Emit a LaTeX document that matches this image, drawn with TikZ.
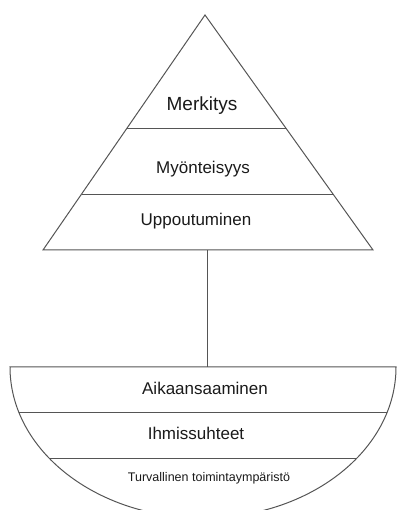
\documentclass[tikz,border=0pt]{standalone}
\usepackage{fontspec}
\setmainfont{Liberation Sans}
\usepackage{tikz}
\usetikzlibrary{calc}
\definecolor{edgegray}{HTML}{555555}
\definecolor{labelink}{HTML}{1A1A1A}
\tikzset{
  layerline/.style={edgegray, line width=1pt},
  layertext/.style={labelink, font=\fontsize{17}{17}\selectfont}
}

\begin{document}
\begin{tikzpicture}[x=1pt, y=1pt]
  \useasboundingbox (0,0) rectangle (398,510);

  % Pyramid - three layers on top
  \coordinate (apex) at (205,495);
  \coordinate (baseL) at (43,260);
  \coordinate (baseR) at (373,260);
  \draw[layerline, line join=miter] (apex) -- (baseL) -- (baseR) -- cycle;
  % Layer dividers
  \draw[layerline] ($(apex)!0.481!(baseL)$) -- ($(apex)!0.481!(baseR)$);
  \draw[layerline] ($(apex)!0.762!(baseL)$) -- ($(apex)!0.762!(baseR)$);

  \node[layertext, font=\fontsize{19}{19}\selectfont] (merkitys) at (202,404) {Merkitys};
  \node[layertext] (myonteisyys) at (203,341) {Myönteisyys};
  \node[layertext] (uppoutuminen) at (196,289) {Uppoutuminen};

  % Stem between pyramid and bowl
  \coordinate (stemtop) at (207,260);
  \coordinate (stembottom) at (207,143);
  \draw[layerline] (stemtop) -- (stembottom);

  % Bowl - foundation layers
  \begin{scope}
    \clip (10,143) arc[start angle=180, end angle=360, x radius=193, y radius=151] -- cycle;
    \draw[layerline] (0,97) -- (398,97);
    \draw[layerline] (0,51) -- (398,51);
  \end{scope}
  \draw[layerline] (10,143) arc[start angle=180, end angle=360, x radius=193, y radius=151] -- cycle;

  \node[layertext] (aikaansaaminen) at (205,122) {Aikaansaaminen};
  \node[layertext] (ihmissuhteet) at (196,77) {Ihmissuhteet};
  \node[layertext, font=\fontsize{12.5}{12.5}\selectfont] (turvallinen) at (209,32) {Turvallinen toimintaympäristö};
\end{tikzpicture}
\end{document}
